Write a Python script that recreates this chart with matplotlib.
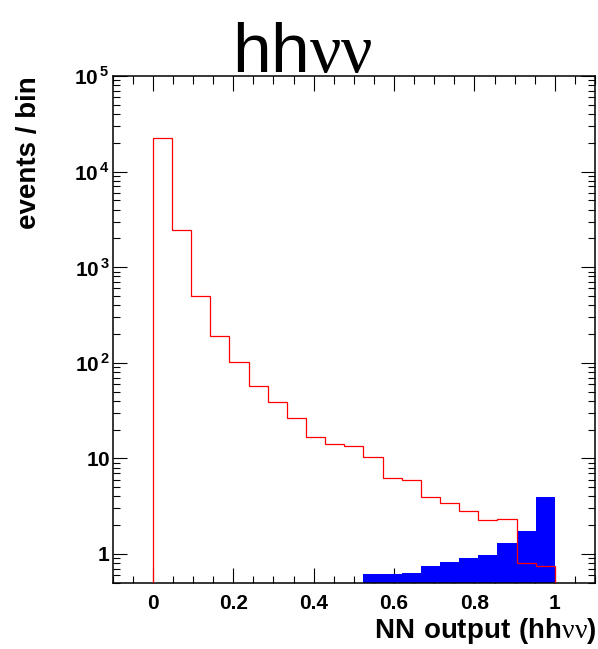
import numpy as np
import matplotlib
matplotlib.use('Agg')
import matplotlib.pyplot as plt
from matplotlib.ticker import MultipleLocator, LogLocator, FuncFormatter, NullFormatter

plt.rcParams['font.family'] = ['Liberation Sans', 'DejaVu Sans']
plt.rcParams['mathtext.fontset'] = 'custom'
plt.rcParams['mathtext.rm'] = 'Liberation Serif'
plt.rcParams['mathtext.bf'] = 'Liberation Sans:bold'
plt.rcParams['mathtext.sf'] = 'Liberation Sans'

# NN output histograms, 21 equal bins on [0, 1]
bin_edges = np.linspace(0.0, 1.0, 22)
background = [22700, 2430, 503, 190, 101, 57, 38.6, 26.5, 16.6, 14.2, 13.5,
              10.4, 6.25, 5.96, 3.92, 3.39, 2.84, 2.27, 2.30, 0.805, 0.75]
signal_first_bin = 11
signal = [0.62, 0.62, 0.635, 0.755, 0.83, 0.90, 0.975, 1.29, 1.72, 3.98]

fig = plt.figure(figsize=(5.98, 6.49), dpi=100)
ax = fig.add_axes([112.7 / 598, 1 - 582.7 / 649, (595 - 112.7) / 598, (582.7 - 76) / 649])

ax.stairs(signal, bin_edges[signal_first_bin:], fill=True, baseline=1e-3,
          color='#0000ff', linewidth=0, zorder=2)
ax.stairs(background, bin_edges, baseline=1e-3, color='#ff0000',
          linewidth=0.9, zorder=3)

ax.set_yscale('log')
ax.set_xlim(-0.1, 1.1)
ax.set_ylim(0.5, 1e5)


def ylabel_fmt(v, pos):
    e = int(round(np.log10(v)))
    if e == 0:
        return r'$\mathbf{1}\hspace{0.8}$'
    if e == 1:
        return r'$\mathbf{10}\hspace{0.8}$'
    return r'$\mathbf{10}^{\,\mathbf{%d}}$' % e


ax.xaxis.set_major_locator(MultipleLocator(0.2))
ax.xaxis.set_minor_locator(MultipleLocator(0.05))
ax.xaxis.set_major_formatter(FuncFormatter(lambda v, p: '%g' % round(v, 2)))
ax.yaxis.set_major_locator(LogLocator(base=10, numticks=10))
ax.yaxis.set_minor_locator(LogLocator(base=10, subs=np.arange(2, 10), numticks=20))
ax.yaxis.set_major_formatter(FuncFormatter(ylabel_fmt))
ax.yaxis.set_minor_formatter(NullFormatter())

ax.tick_params(which='both', direction='in', top=True, right=True, width=0.8)
ax.tick_params(axis='x', which='major', length=10.8, labelsize=15, pad=8)
ax.tick_params(axis='x', which='minor', length=5.4)
ax.tick_params(axis='y', which='major', length=10, labelsize=15, pad=2)
ax.tick_params(axis='y', which='minor', length=5)
for lbl in ax.get_xticklabels():
    lbl.set_fontweight('bold')
for sp in ax.spines.values():
    sp.set_linewidth(1.1)

ax.set_xlabel(r'$\mathbf{NN\ output\ (hh}\mathrm{\nu\nu}\mathbf{)}$',
              fontsize=20, loc='right')
ax.xaxis.set_label_coords(1.003, -0.066)
ax.set_ylabel('events / bin', fontsize=20, fontweight='bold', loc='top')
ax.yaxis.set_label_coords(-0.147, 1.0)

fig.text(0.505, 1 - 72 / 649, r'$\mathsf{hh}\mathrm{\nu\nu}$', fontsize=50,
         ha='center', va='baseline')

fig.savefig('out.png', dpi=100)
